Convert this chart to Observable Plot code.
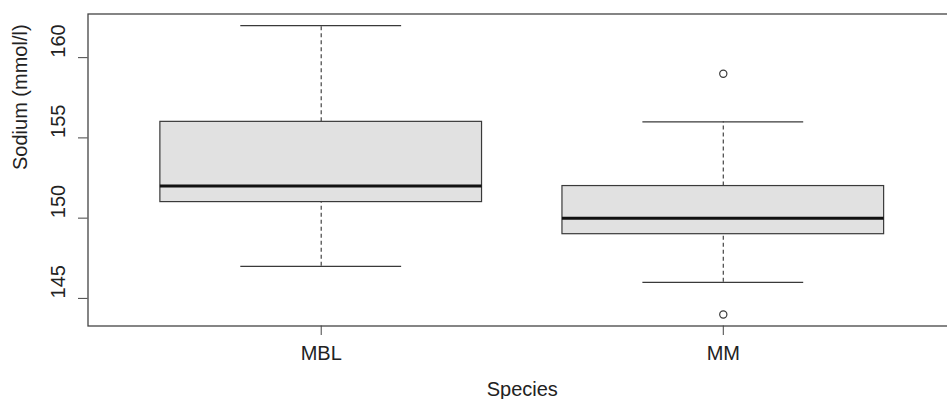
<!DOCTYPE html>
<html>
<head>
<meta charset="utf-8">
<script src="https://cdn.jsdelivr.net/npm/d3@7"></script>
<script src="https://cdn.jsdelivr.net/npm/@observablehq/plot@0.6"></script>
<style>
html, body { margin: 0; padding: 0; background: #fff; overflow: hidden; }
</style>
</head>
<body>
<div id="chart"></div>
<script>
// Data
const categories = ["MBL", "MM"];
const whiskerLow = [147, 146];
const q1 = [151, 149];
const median = [152, 150];
const q3 = [156, 152];
const whiskerHigh = [162, 156];
const outlierGroup = ["MM", "MM"];
const outlierValue = [159, 144];
const yTicks = [145, 150, 155, 160];
const yLabel = "Sodium (mmol/l)";
const xLabel = "Species";

const boxes = categories.map((c, i) => ({
  pos: i + 1, name: c,
  lo: whiskerLow[i], q1: q1[i], med: median[i], q3: q3[i], hi: whiskerHigh[i]
}));
const outliers = outlierValue.map((v, i) => ({pos: categories.indexOf(outlierGroup[i]) + 1, value: v}));

const boxHalf = 0.4;   // R boxwex 0.8
const capHalf = 0.2;   // staplewex 0.5
const lineColor = "#3a3a3a";

const chart = Plot.plot({
  width: 947,
  height: 399,
  marginLeft: 87.5,
  marginRight: -9,
  marginTop: 13.5,
  marginBottom: 73.5,
  style: {fontFamily: "'Liberation Sans', Arial, Helvetica, sans-serif", fontSize: "20px", background: "#fff", color: "#222", overflow: "hidden"},
  x: {type: "linear", domain: [0.42, 2.58], axis: null},
  y: {domain: [143.28, 162.72], axis: null},
  marks: [
    // whiskers (dashed)
    Plot.ruleX(boxes, {x: "pos", y1: "q3", y2: "hi", stroke: "#444", strokeDasharray: "4,3", strokeWidth: 1.2}),
    Plot.ruleX(boxes, {x: "pos", y1: "lo", y2: "q1", stroke: "#444", strokeDasharray: "4,3", strokeWidth: 1.2}),
    // caps
    Plot.ruleY(boxes, {y: "hi", x1: d => d.pos - capHalf, x2: d => d.pos + capHalf, stroke: lineColor, strokeWidth: 1.2}),
    Plot.ruleY(boxes, {y: "lo", x1: d => d.pos - capHalf, x2: d => d.pos + capHalf, stroke: lineColor, strokeWidth: 1.2}),
    // boxes
    Plot.rect(boxes, {x1: d => d.pos - boxHalf, x2: d => d.pos + boxHalf, y1: "q1", y2: "q3", fill: "#e1e1e1", stroke: lineColor, strokeWidth: 1.2}),
    // medians
    Plot.ruleY(boxes, {y: "med", x1: d => d.pos - boxHalf, x2: d => d.pos + boxHalf, stroke: "#111", strokeWidth: 3}),
    // outliers
    Plot.dot(outliers, {x: "pos", y: "value", r: 3.6, stroke: lineColor, fill: "#fff", strokeWidth: 1.2}),
    // frame
    Plot.frame({stroke: "#444", strokeWidth: 1.3}),
    // y axis ticks + rotated labels
    Plot.axisY({ticks: yTicks, tickSize: 9.5, tickFormat: () => "", stroke: "#444", label: null}),
    Plot.text(yTicks, {y: d => d, text: d => String(d), frameAnchor: "left", dx: -29, rotate: -90, fontSize: 20, fill: "#222"}),
    // x axis ticks + labels
    Plot.axisX({ticks: [1, 2], tickSize: 9.5, tickFormat: () => "", stroke: "#444", label: null}),
    Plot.text(boxes, {x: "pos", text: "name", frameAnchor: "bottom", lineAnchor: "top", dy: 19.6, fontSize: 20, fill: "#222"}),
    // axis titles
    Plot.text([yLabel], {text: d => d, frameAnchor: "left", dx: -67.5, rotate: -90, fontSize: 20, fill: "#222"}),
    Plot.text([xLabel], {text: d => d, frameAnchor: "bottom", lineAnchor: "top", dy: 56, fontSize: 20, fill: "#222"})
  ]
});
document.getElementById("chart").appendChild(chart);
</script>
</body>
</html>
